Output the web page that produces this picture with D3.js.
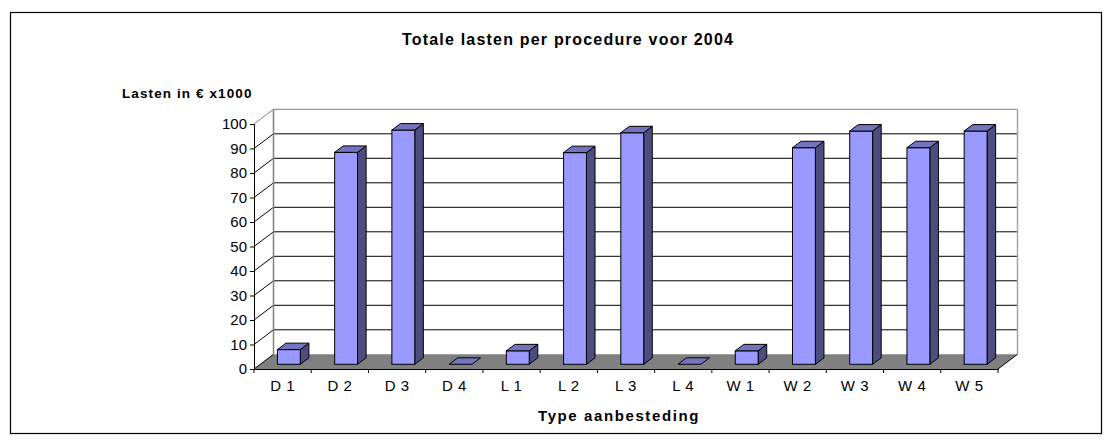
<!DOCTYPE html>
<html lang="en">
<head>
<meta charset="UTF-8">
<title>Totale lasten per procedure voor 2004</title>
<script src="https://d3js.org/d3.v7.min.js"></script>
<style>
    body { margin: 0; background: #fff; }
    text { font-family: "Liberation Sans", Arial, sans-serif; fill: #000; }
</style>
</head>
<body>
<div id="chart"></div>
<script>
    // data
    var categories = ['D 1', 'D 2', 'D 3', 'D 4', 'L 1', 'L 2', 'L 3', 'L 4', 'W 1', 'W 2', 'W 3', 'W 4', 'W 5'];
    var lasten = [6, 86.5, 95.6, 0, 5.5, 86.4, 94.5, 0, 5.5, 88.4, 95.2, 88.4, 95.2];
    var yTicks = [0, 10, 20, 30, 40, 50, 60, 70, 80, 90, 100];

    var WIDTH = 1113, HEIGHT = 445;
    var DX = 19.5, DY = 14.7;          // depth of the 3d box
    var BAR_FRONT = 0.32, BAR_DEPTH = 0.44;

    var svg = d3.select('#chart').append('svg')
        .attr('width', WIDTH)
        .attr('height', HEIGHT);

    // outer frame
    svg.append('rect')
        .attr('x', 10.5).attr('y', 12.5)
        .attr('width', 1091).attr('height', 421)
        .attr('fill', 'none')
        .attr('stroke', '#000')
        .attr('stroke-width', 1.2);

    var x = d3.scaleBand()
        .domain(categories)
        .range([254, 998])
        .paddingInner(0.6)
        .paddingOuter(0.3);

    var y = d3.scaleLinear()
        .domain([0, 100])
        .range([369, 124]);

    var chart = svg.append('g');

    // floor
    chart.append('polygon')
        .attr('points', [[254, y(0)], [998, y(0)], [998 + DX, y(0) - DY], [254 + DX, y(0) - DY]].join(' '))
        .attr('fill', '#808080');

    // back wall gridlines + side wall diagonals
    yTicks.forEach(function (t) {
        var top = t === 100;
        chart.append('line')
            .attr('x1', 254 + DX).attr('x2', 998 + DX)
            .attr('y1', y(t) - DY).attr('y2', y(t) - DY)
            .attr('stroke', top ? '#808080' : '#000')
            .attr('stroke-width', t === 0 ? 0 : 1);
        chart.append('line')
            .attr('x1', 254).attr('x2', 254 + DX)
            .attr('y1', y(t)).attr('y2', y(t) - DY)
            .attr('stroke', top ? '#808080' : '#000')
            .attr('stroke-width', 1);
    });

    // wall edges
    chart.append('line')
        .attr('x1', 254 + DX).attr('x2', 254 + DX)
        .attr('y1', y(100) - DY).attr('y2', y(0) - DY)
        .attr('stroke', '#808080').attr('stroke-width', 1.5);
    chart.append('line')
        .attr('x1', 998 + DX).attr('x2', 998 + DX)
        .attr('y1', y(100) - DY).attr('y2', y(0) - DY)
        .attr('stroke', '#a6a6a6').attr('stroke-width', 1.5);

    // floor front diagonal right
    chart.append('line')
        .attr('x1', 998).attr('x2', 998 + DX)
        .attr('y1', y(0)).attr('y2', y(0) - DY)
        .attr('stroke', '#000').attr('stroke-width', 1);

    // bars
    var bars = chart.append('g').selectAll('g')
        .data(categories.map(function (c, i) { return { cat: c, v: lasten[i] }; }))
        .enter().append('g');

    var fx = DX * BAR_FRONT, fy = DY * BAR_FRONT;
    var bx = DX * BAR_DEPTH, by = DY * BAR_DEPTH;

    bars.each(function (d) {
        var g = d3.select(this);
        var x0 = x(d.cat) + fx, x1 = x0 + x.bandwidth();
        var yb = y(0) - fy, yt = y(d.v) - fy;
        if (d.v > 0) {
            g.append('polygon')
                .attr('points', [[x1, yt], [x1 + bx, yt - by], [x1 + bx, yb - by], [x1, yb]].join(' '))
                .attr('fill', '#4d4d80').attr('stroke', '#000').attr('stroke-width', 1)
                .attr('stroke-linejoin', 'round');
            g.append('rect')
                .attr('x', x0).attr('y', yt)
                .attr('width', x1 - x0).attr('height', yb - yt)
                .attr('fill', '#9999ff').attr('stroke', '#000').attr('stroke-width', 1);
        }
        g.append('polygon')
            .attr('points', [[x0, yt], [x1, yt], [x1 + bx, yt - by], [x0 + bx, yt - by]].join(' '))
            .attr('fill', '#7373bf').attr('stroke', '#000').attr('stroke-width', 1)
            .attr('stroke-linejoin', 'round');
    });

    // y axis
    var yAxis = chart.append('g')
        .attr('transform', 'translate(254,0)')
        .call(d3.axisLeft(y).tickValues(yTicks).tickSize(4).tickPadding(3));
    yAxis.select('.domain').attr('stroke', '#000');
    yAxis.selectAll('.tick line').attr('stroke', '#000');
    yAxis.selectAll('text')
        .attr('fill', '#000')
        .style('font-size', '15px')
        .style('font-family', '"Liberation Sans", Arial, sans-serif');

    // x axis: front floor edge with ticks between categories
    var xAxis = chart.append('g')
        .attr('transform', 'translate(0,' + y(0) + ')')
        .call(d3.axisBottom(x).tickSize(0).tickPadding(11));
    xAxis.select('.domain').attr('stroke', '#000');
    xAxis.selectAll('text')
        .attr('fill', '#000')
        .style('font-size', '15px')
        .style('letter-spacing', '0.5px')
        .style('font-family', '"Liberation Sans", Arial, sans-serif');
    d3.range(categories.length + 1).forEach(function (i) {
        var xt = x.range()[0] + i * x.step();
        xAxis.append('line')
            .attr('x1', xt).attr('x2', xt)
            .attr('y1', 0).attr('y2', 4)
            .attr('stroke', '#000');
    });

    // titles
    svg.append('text')
        .attr('x', 568).attr('y', 45)
        .attr('text-anchor', 'middle')
        .style('font-size', '16px').style('font-weight', 'bold')
        .style('letter-spacing', '1.2px')
        .text('Totale lasten per procedure voor 2004');

    svg.append('text')
        .attr('x', 122).attr('y', 98)
        .style('font-size', '13.5px').style('font-weight', 'bold')
        .style('letter-spacing', '1.1px')
        .text('Lasten in € x1000');

    svg.append('text')
        .attr('x', 619).attr('y', 421)
        .attr('text-anchor', 'middle')
        .style('font-size', '15px').style('font-weight', 'bold')
        .style('letter-spacing', '1.6px')
        .text('Type aanbesteding');
</script>
</body>
</html>
